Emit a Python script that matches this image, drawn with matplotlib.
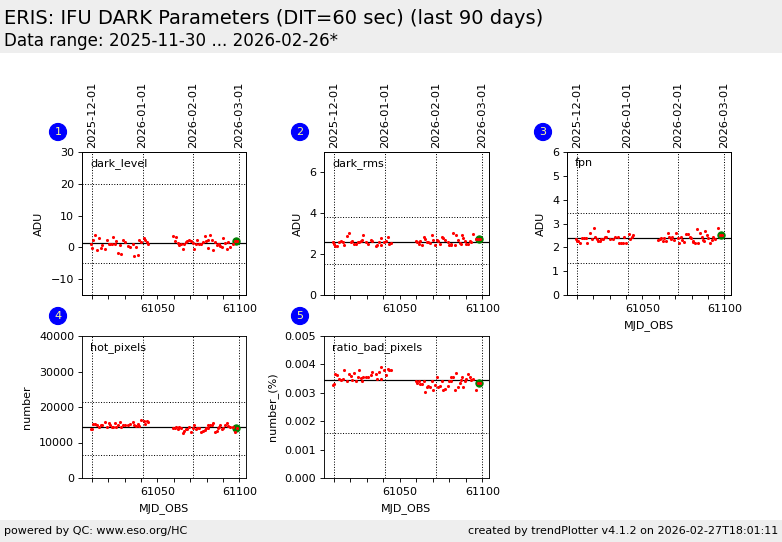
import matplotlib
matplotlib.use('Agg')
import matplotlib.pyplot as plt
from matplotlib.patches import Rectangle

W, H = 782, 542

# Data
mjd = [61009.3, 61010.4, 61011.0, 61012.2, 61013.4, 61014.2, 61015.4, 61016.5, 61018.3, 61019.5, 61020.3,
       61021.3, 61022.2, 61023.2, 61024.4, 61025.0, 61026.2, 61027.2, 61027.8, 61029.3, 61030.5, 61032.3,
       61033.3, 61035.4, 61036.0, 61037.2, 61038.4, 61038.8, 61040.2, 61041.7, 61042.7, 61043.5, 61044.5,
       61059.8, 61060.6, 61061.6, 61062.4, 61063.4, 61064.4, 61065.4, 61066.5, 61067.3, 61068.3, 61069.3,
       61070.3, 61071.5, 61072.6, 61073.4, 61074.4, 61075.4, 61076.4, 61077.6, 61079.1, 61079.5, 61080.7,
       61081.1, 61082.3, 61083.5, 61084.1, 61085.4, 61086.4, 61087.0, 61087.8, 61088.4, 61089.2, 61090.2,
       61091.5, 61092.3, 61093.3, 61094.5, 61096.3, 61097.4, 61098.4]

dark_level = [0.9, -0.3, 2.2, 3.8, -0.9, 2.8, -0.3, 0.8, -0.6, 2.4, 1.2, 1.0, 1.0, 3.1, 0.9, 1.9, -1.9, 0.6,
              -2.2, 2.2, 1.6, 0.3, 0.1, 1.2, -2.7, 0.1, -2.5, 2.2, 1.7, 2.8, 2.4, 1.8, 0.9,
              3.5, 1.9, 3.1, 1.3, 0.6, 1.0, -0.6, 1.2, 1.6, 2.1, 2.2, 2.0, 1.3, -0.6, 0.9, 2.2, 0.9, 1.0,
              1.6, 3.5, 2.1, -0.3, 2.4, 3.8, 2.4, -0.9, 1.6, 0.6, 1.2, 1.2, 0.5, 0.0, 2.8, 1.5, -0.6, 1.8,
              0.0, 1.2, 1.9, 2.0]
dark_rms = [2.58, 2.5, 2.42, 2.38, 2.6, 2.62, 2.58, 2.45, 2.88, 3.02, 2.58, 2.62, 2.5, 2.5, 2.58, 2.6, 2.65,
            2.68, 2.92, 2.58, 2.52, 2.68, 2.62, 2.42, 2.43, 2.58, 2.43, 2.78, 2.6, 2.62, 2.82, 2.52, 2.55,
            2.62, 2.6, 2.5, 2.63, 2.43, 2.82, 2.72, 2.6, 2.6, 2.55, 2.92, 2.68, 2.43, 2.68, 2.62, 2.5, 2.82,
            2.78, 2.68, 2.6, 2.43, 2.5, 2.43, 3.02, 2.43, 2.92, 2.68, 2.55, 2.48, 2.92, 2.78, 2.62, 2.5,
            2.5, 2.62, 2.58, 2.97, 2.72, 2.75, 2.72]
fpn = [2.35, 2.28, 2.25, 2.18, 2.38, 2.38, 2.38, 2.2, 2.62, 2.33, 2.8, 2.42, 2.33, 2.28, 2.25, 2.33, 2.33,
       2.45, 2.45, 2.67, 2.33, 2.33, 2.45, 2.42, 2.2, 2.2, 2.2, 2.42, 2.2, 2.58, 2.33, 2.42, 2.5,
       2.3, 2.33, 2.38, 2.25, 2.38, 2.25, 2.62, 2.45, 2.33, 2.42, 2.3, 2.62, 2.38, 2.2, 2.42, 2.3, 2.22, 2.58,
       2.55, 2.42, 2.38, 2.22, 2.25, 2.2, 2.75, 2.18, 2.62, 2.45, 2.3, 2.25, 2.67, 2.5, 2.38, 2.2, 2.3,
       2.42, 2.33, 2.8, 2.5, 2.5]
hot_pixels = [13800, 13900, 15200, 15200, 15000, 14400, 14800, 14800, 15700, 14400, 15400, 14900, 14500, 14500,
              15500, 14500, 15000, 15700, 14400, 14800, 14900, 14900, 15200, 15700, 15000, 14700, 15200, 14700,
              16300, 16000, 15200, 16000, 15800,
              14000, 14000, 14300, 13900, 14300, 14000, 12700, 13200, 13800, 13700, 14300, 13000, 14000, 14800,
              13700, 14000, 14100, 13000, 13300, 13600, 14000, 14800, 14100, 14800, 15000, 15400, 13000, 13300,
              14100, 14500, 14900, 13700, 14000, 14800, 15400, 14700, 14500, 14400, 12900, 14100]
ratio_bad_pixels = [.00327, .00330, .00365, .00362, .00350, .00345, .00348, .00380, .00340, .00365, .00358,
                    .00345, .00370, .00340, .00355, .00380, .00352, .00340, .00355, .00355, .00355, .00362,
                    .00372, .00365, .00350, .00373, .00350, .00390, .00382, .00362, .00383, .00380, .00380,
                    .00340, .00335, .00340, .00332, .00332, .00340, .00303, .00320, .00325, .00320, .00340,
                    .00310, .00327, .00355, .00320, .00325, .00340, .00310, .00315, .00325, .00340, .00355,
                    .00340, .00355, .00310, .00370, .00320, .00335, .00345, .00355, .00320, .00340, .00350,
                    .00365, .00355, .00345, .00350, .00310, .00335, .00335]

series = [dark_level, dark_rms, fpn, hot_pixels, ratio_bad_pixels]
names = ['dark_level', 'dark_rms', 'fpn', 'hot_pixels', 'ratio_bad_pixels']
ylabels = ['ADU', 'ADU', 'ADU', 'number', 'number_(%)']
medians = [1.25, 2.58, 2.38, 14300, 0.00345]
lower_limits = [-5.0, 1.5, 1.33, 6500, 0.00158]
upper_limits = [19.8, 3.8, 3.43, 21300, 0.0053]
ylims = [(-15, 30), (0, 7), (0, 6), (0, 40000), (0, 0.005)]
yticks = [[-10, 0, 10, 20, 30], [0, 2, 4, 6], [0, 1, 2, 3, 4, 5, 6],
          [0, 10000, 20000, 30000, 40000], [0, 0.001, 0.002, 0.003, 0.004, 0.005]]
date_mjd = [61010, 61041, 61072, 61100]
date_labels = ['2025-12-01', '2026-01-01', '2026-02-01', '2026-03-01']
mjd_ticks = [61010, 61020, 61030, 61040, 61050, 61060, 61070, 61080, 61090, 61100]
mjd_labels = ['', '', '', '', '61050', '', '', '', '', '61100']

# left, top, width, height in pixels
panels = [(82, 152, 164, 143), (324, 152, 165, 143), (567, 152, 164, 143),
          (82, 336, 164, 142), (324, 336, 165, 142)]
with_xlabel = [False, False, True, True, True]
with_dates = [True, True, True, False, False]


def add_axes_px(fig, left, top, width, height):
    return fig.add_axes([left / W, 1 - (top + height) / H, width / W, height / H])


def draw_panel(fig, i):
    left, top, width, height = panels[i]
    ax = add_axes_px(fig, left, top, width, height)
    ax.set_xlim(61004.1, 61104)
    ax.set_ylim(*ylims[i])

    ax.axhline(medians[i], color='k', lw=1.1, zorder=2)
    ax.axhline(lower_limits[i], color='k', lw=0.9, ls=':', zorder=2)
    ax.axhline(upper_limits[i], color='k', lw=0.9, ls=':', zorder=2)
    for d in date_mjd:
        ax.axvline(d, color='k', lw=0.9, ls=':', zorder=2)

    # last point gets the green marker
    ax.plot(mjd[-1] - 0.2, series[i][-1], 'o', color='green', ms=6.5, zorder=3)
    ax.plot(mjd, series[i], 'o', color='red', ms=2.8, mew=0, zorder=4)

    ax.set_xticks(mjd_ticks)
    ax.set_xticklabels(mjd_labels)
    ax.set_yticks(yticks[i])
    ax.tick_params(labelsize=10, length=3.5, width=0.8)
    ax.tick_params(axis='x', pad=5)
    if i == 4:
        ax.set_yticklabels(['0.000', '0.001', '0.002', '0.003', '0.004', '0.005'])
    ax.set_ylabel(ylabels[i], fontsize=10, labelpad=6)
    if with_xlabel[i]:
        ax.set_xlabel('MJD_OBS', fontsize=10, labelpad=5)

    ax.text(0.05, 0.92, names[i], transform=ax.transAxes, fontsize=10, va='center', ha='left')

    if with_dates[i]:
        top_ax = ax.twiny()
        top_ax.set_xlim(ax.get_xlim())
        top_ax.set_xticks(date_mjd)
        top_ax.set_xticklabels(date_labels, rotation=90, fontsize=10.3)
        top_ax.tick_params(length=0, pad=4)

    # numbered badge
    fig.text((left - 24) / W, 1 - (top - 20) / H, str(i + 1), color='#ffff99', fontsize=10, ha='center', va='center',
             bbox=dict(boxstyle='circle,pad=0.32', fc='blue', ec='blue'))


def main():
    fig = plt.figure(figsize=(W / 80, H / 80), dpi=80)

    # header and footer bands
    fig.add_artist(Rectangle((0, 1 - 53 / H), 1, 53 / H, transform=fig.transFigure, fc='#eeeeee', ec='none'))
    fig.add_artist(Rectangle((0, 0), 1, 22 / H, transform=fig.transFigure, fc='#eeeeee', ec='none'))
    fig.text(4 / W, 1 - 18 / H, 'ERIS: IFU DARK Parameters (DIT=60 sec) (last 90 days)', fontsize=17.5, va='center')
    fig.text(4 / W, 1 - 41 / H, 'Data range: 2025-11-30 ... 2026-02-26*', fontsize=15.1, va='center')
    fig.text(4 / W, 11 / H, 'powered by QC: www.eso.org/HC', fontsize=10, va='center')
    fig.text(778 / W, 11 / H, 'created by trendPlotter v4.1.2 on 2026-02-27T18:01:11', fontsize=10, va='center', ha='right')

    for i in range(len(series)):
        draw_panel(fig, i)

    fig.savefig('out.png', dpi=80)


if __name__ == '__main__':
    main()
